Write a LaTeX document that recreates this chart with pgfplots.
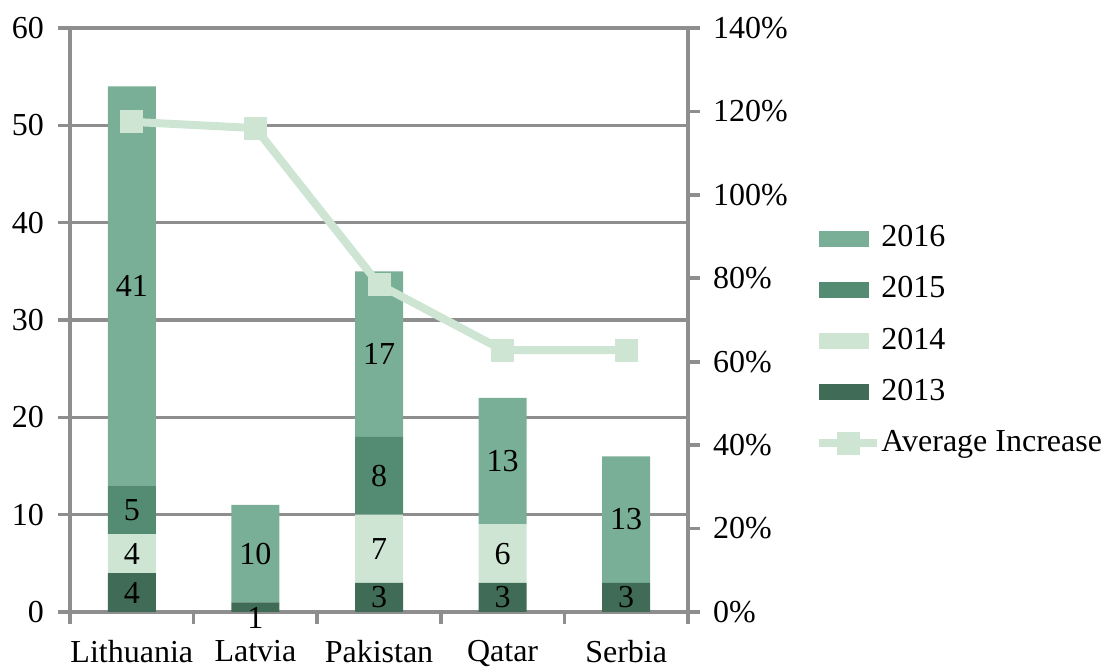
\documentclass[border=0pt]{standalone}
\usepackage{pgfplots}
\pgfplotsset{compat=1.18}
\usepackage{fontspec}
\setmainfont{Liberation Serif}
\definecolor{cA}{HTML}{79AF96}
\definecolor{cB}{HTML}{548C73}
\definecolor{cC}{HTML}{CEE5D3}
\definecolor{cD}{HTML}{3F6B57}
\definecolor{axgray}{HTML}{8E8E8E}
\pgfplotsset{
  lineleg/.style={legend image code/.code={\draw[mark repeat=2,mark phase=2,##1] plot coordinates {(0pt,0pt) (14.5pt,0pt) (29pt,0pt)};}},
  patchleg/.style={legend image code/.code={\fill[#1, draw=none] (0pt,-4pt) rectangle (25pt,4pt); \path[draw=none, fill=none] (0pt,0pt) -- (29pt,0pt);}},
  common/.style={
    scale only axis, width=309pt, height=292pt,
    xmin=-0.5, xmax=4.5, enlargelimits=false,
    /pgf/number format/assume math mode=true,
    tick align=outside, major tick length=6pt,
    tick style={draw=axgray, line width=1.8pt},
    axis line style={-, draw=axgray, line width=1.8pt},
    ticklabel style={font=\fontsize{16}{19}\selectfont},
  }
}
\begin{document}
\begin{tikzpicture}[font=\fontsize{16}{19}\selectfont]
\begin{axis}[common, name=main,
  ymin=0, ymax=60,
  ybar stacked, bar width=24pt,
  axis x line*=bottom, axis y line*=left,
  ytick={0,10,...,60}, yticklabels={0,10,20,30,40,50,60},
  xtick={-0.5,0.5,1.5,2.5,3.5,4.5},
  xticklabels={Lithuania,Latvia,Pakistan,Qatar,Serbia,{}},
  xticklabel style={xshift=30.9pt, yshift=-4.5pt},
  yticklabel style={xshift=-3.5pt},
  ymajorgrids, grid style={draw=axgray, line width=1.8pt},
]
\addplot[fill=cD, draw=none] coordinates {(0,4) (1,1) (2,3) (3,3) (4,3)};
\addplot[fill=cC, draw=none] coordinates {(0,4) (1,0) (2,7) (3,6) (4,0)};
\addplot[fill=cB, draw=none] coordinates {(0,5) (1,0) (2,8) (3,0) (4,0)};
\addplot[fill=cA, draw=none] coordinates {(0,41) (1,10) (2,17) (3,13) (4,13)};
\end{axis}
\begin{axis}[common,
  ymin=0, ymax=140,
  axis x line=none, axis y line*=right,
  ytick={0,20,...,140},
  yticklabels={0\%,20\%,40\%,60\%,80\%,100\%,120\%,140\%},
  yticklabel style={xshift=3pt},
  legend cell align=left,
  legend style={at={(axis description cs:1.2055,0.664)}, anchor=north west,
    draw=none, fill=none, inner sep=0pt, row sep=11.6pt, column sep=0pt,
    font=\fontsize{16}{19}\selectfont,
    nodes={inner sep=0pt, text height=11pt, text depth=3pt}},
]
\addlegendimage{patchleg=cA}
\addlegendentry{2016}
\addlegendimage{patchleg=cB}
\addlegendentry{2015}
\addlegendimage{patchleg=cC}
\addlegendentry{2014}
\addlegendimage{patchleg=cD}
\addlegendentry{2013}
\addplot[color=cC, line width=4pt, line join=round, mark=square*, mark size=5.5pt,
  mark options={fill=cC, draw=cC, line width=0pt}, lineleg]
  coordinates {(0,117.5) (1,116) (2,78.5) (3,62.8) (4,62.8)};
\addlegendentry{Average Increase}
\end{axis}
\begin{axis}[scale only axis, width=309pt, height=292pt,
  xmin=-0.5, xmax=4.5, ymin=0, ymax=60, hide axis]
\addplot[draw=none, mark=none, nodes near coords, point meta=explicit symbolic,
  nodes near coords style={anchor=center, font=\fontsize{16}{19}\selectfont, text=black}]
  table[meta=lab] {
x y lab
0 2 4
0 6 4
0 10.5 5
0 33.5 41
1 6 10
2 1.5 3
2 6.5 7
2 14 8
2 26.5 17
3 1.5 3
3 6 6
3 15.5 13
4 1.5 3
4 9.5 13
};
\addplot[draw=none, mark=none, nodes near coords, point meta=explicit symbolic,
  nodes near coords style={anchor=center, yshift=-5.5pt, font=\fontsize{16}{19}\selectfont, text=black}]
  table[meta=lab] {
x y lab
1 0.5 1
};
\end{axis}
\pgfresetboundingbox
\path[use as bounding box] (main.south west) ++(-35pt,-28pt) rectangle ++(554.5pt,334pt);
\end{tikzpicture}
\end{document}
